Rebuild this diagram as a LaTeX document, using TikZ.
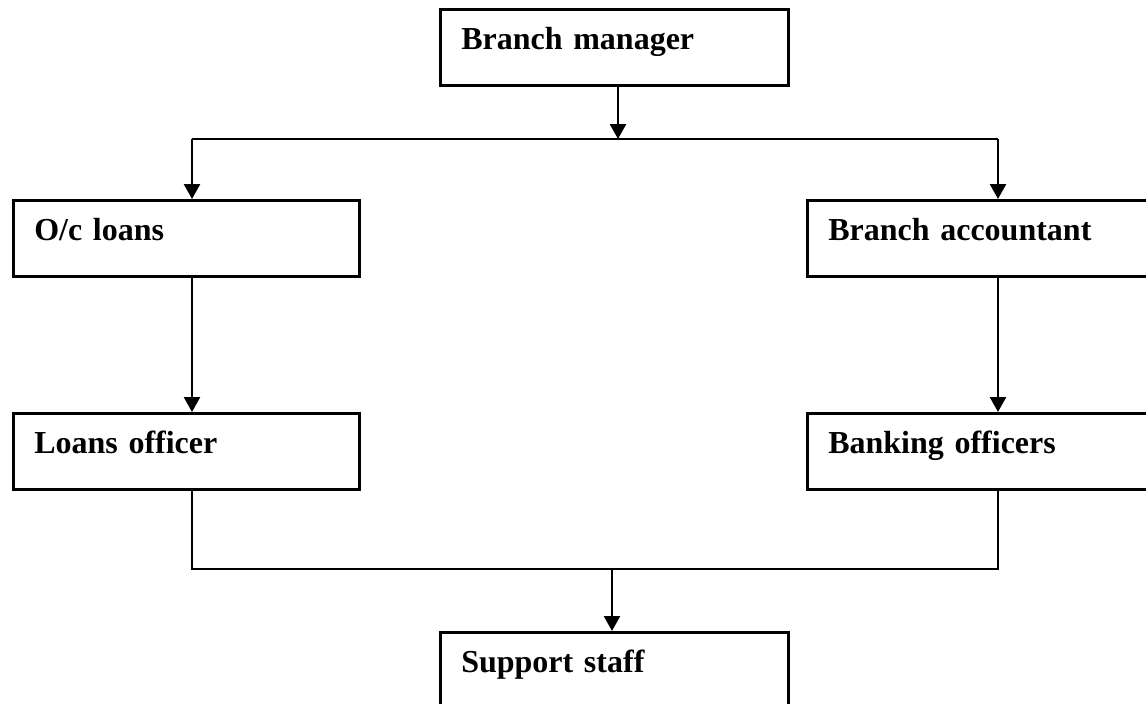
\documentclass[tikz,border=0pt]{standalone}
\usepackage{fontspec}
\setmainfont{Liberation Serif}
\usepackage{tikz}
\usetikzlibrary{positioning,calc}
\usetikzlibrary{arrows.meta}
\tikzset{
  post/.style={draw=black,line width=2.6pt,anchor=north west,inner xsep=21pt,
    inner ysep=18pt,text height=22pt,text depth=18pt,align=left,
    text width=#1,font=\fontsize{32}{38}\selectfont\bfseries},
  link/.style={draw=black,line width=2.6pt},
  arr/.style={link,-{Triangle[width=16pt,length=15pt]}},
}
\begin{document}
\begin{tikzpicture}[x=1pt,y=-1pt]
\clip (0,0) rectangle (1146,704);
\fill[white] (0,0) rectangle (1146,704);
% boxes
\node[post=306pt] (bm) at (439,8) {Branch manager};
\node[post=304pt] (oc) at (12,199) {O/c loans};
\node[post=312pt] (ba) at (806,199) {Branch accountant};
\node[post=304pt] (lo) at (12,412) {Loans officer};
\node[post=312pt] (bo) at (806,412) {Banking officers};
\node[post=306pt] (ss) at (439,631) {Support staff};
% junctions
\coordinate (j1) at (618,139);
\coordinate (cl) at (192,139);
\coordinate (cr) at (998,139);
\coordinate (dl) at (192,569);
\coordinate (dr) at (998,569);
\coordinate (j2) at (612,569);
% connectors
\draw[arr] (bm.south -| j1) -- (j1);
\draw[link] (cl) -- (cr);
\draw[arr] (cl) -- (cl |- oc.north);
\draw[arr] (cr) -- (cr |- ba.north);
\draw[arr] (oc.south -| cl) -- (cl |- lo.north);
\draw[arr] (ba.south -| cr) -- (cr |- bo.north);
\draw[link] (lo.south -| dl) -- (dl) -- (dr) -- (bo.south -| dr);
\draw[arr] (j2) -- (j2 |- ss.north);
\end{tikzpicture}
\end{document}
